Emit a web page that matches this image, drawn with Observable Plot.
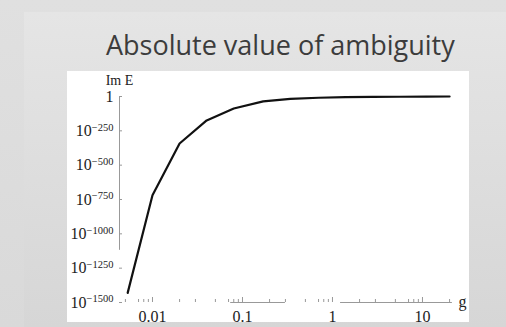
<!DOCTYPE html>
<html>
<head>
<meta charset="utf-8">
<script src="https://cdn.jsdelivr.net/npm/d3@7"></script>
<script src="https://cdn.jsdelivr.net/npm/@observablehq/plot@0.6"></script>
<style>
  html, body { margin: 0; padding: 0; }
  body { width: 506px; height: 327px; position: relative; overflow: hidden;
         background: linear-gradient(#e0e0e0, #d9d9d9); }
  #panel { position: absolute; left: 24px; top: 12px; right: 0; bottom: 0;
           background: linear-gradient(#e5e5e5, #d6d6d6); }
  #title { position: absolute; left: 106px; top: 26px; font-family: "Open Sans", sans-serif;
           font-size: 27px; color: #3c3c3c; white-space: nowrap; line-height: normal; }
  #chart { position: absolute; left: 67px; top: 71px; }
</style>
</head>
<body>
<div id="panel"></div>
<div id="title">Absolute value of ambiguity</div>
<div id="chart"></div>
<script>
// coupling g and exponent of |Im E| (|Im E| = 10^exponent)
const gValues = [0.0053, 0.01, 0.02, 0.04, 0.08, 0.17, 0.34, 0.7, 1.4, 2.8, 5.6, 11, 20];
const exponents = [-1430, -719, -342, -174, -87, -36, -17, -9, -5, -3, -2, -1, 0];
const yTicks = [0, -250, -500, -750, -1000, -1250, -1500];
const xTicks = [0.01, 0.1, 1, 10];
const xTickLabels = ["0.01", "0.1", "1", "10"];
const xMinorTicks = [0.005, 0.007, 0.008, 0.009, 0.02, 0.03, 0.05, 0.07, 0.08, 0.09,
  0.2, 0.3, 0.5, 0.7, 0.8, 0.9, 2, 3, 5, 7, 8, 9, 20];
const xDomain = [0.0043, 33.3];
const yDomain = [-1500, 0];
const yAxisLineEnd = -1120;
const xAxisSegStart = [0.074, 1.23];
const xAxisSegEnd = [0.30, 21.5];

const data = gValues.map((g, i) => ({g, e: exponents[i]}));
const segs = xAxisSegStart.map((s, i) => ({x1: s, x2: xAxisSegEnd[i]}));

const plot = Plot.plot({
  width: 402, height: 251,
  marginLeft: 52, marginRight: 0, marginTop: 25, marginBottom: 20,
  style: {background: "white", fontFamily: "'Liberation Serif', serif", color: "#222", overflow: "visible"},
  x: {type: "log", domain: xDomain, range: [52, 402]},
  y: {domain: yDomain},
  marks: [
    Plot.ruleX([{y1: 0, y2: yAxisLineEnd}], {x: () => xDomain[0], y1: "y1", y2: "y2", stroke: "#999", strokeWidth: 1}),
    Plot.ruleY(segs, {y: () => yDomain[0], x1: "x1", x2: "x2", stroke: "#999", strokeWidth: 1}),
    Plot.axisY({ticks: yTicks, tickSize: -3, tickFormat: () => "", stroke: "#999", label: null}),
    Plot.axisY({ticks: yTicks, tickSize: 0, tickPadding: 6, fontSize: 16, fill: "#222",
      tickFormat: d => d === 0 ? "1" : "10^" + String(d).replace("-", "\u2212"), label: null}),
    Plot.axisX({ticks: xMinorTicks, tickSize: -3, tickFormat: () => "", stroke: "#999", label: null}),
    Plot.axisX({ticks: xTicks, tickSize: -5, tickFormat: () => "", stroke: "#999", label: null}),
    Plot.axisX({ticks: xTicks, tickSize: 0, tickPadding: 8, fontSize: 16, fill: "#222",
      tickFormat: d => xTickLabels[xTicks.indexOf(d)], label: null}),
    Plot.text(["Im E"], {x: () => xDomain[0], y: () => yDomain[1], text: d => d, dy: -16, fontSize: 14, fill: "#222"}),
    Plot.text(["g"], {x: () => xDomain[1], y: () => yDomain[0], text: d => d, dx: -7, dy: -1, fontSize: 16, fill: "#222", textAnchor: "middle"}),
    Plot.line(data, {x: "g", y: "e", stroke: "#111", strokeWidth: 2.2, strokeLinejoin: "round"})
  ]
});
document.getElementById("chart").appendChild(plot);

// render the 10^n labels with real superscripts
d3.select(plot).selectAll("text").each(function() {
  const t = this.textContent;
  if (t.startsWith("10^")) {
    const el = d3.select(this);
    el.text("10");
    el.append("tspan").attr("dy", "-0.5em").attr("font-size", 10.5).text(t.slice(3));
  }
});
</script>
</body>
</html>
